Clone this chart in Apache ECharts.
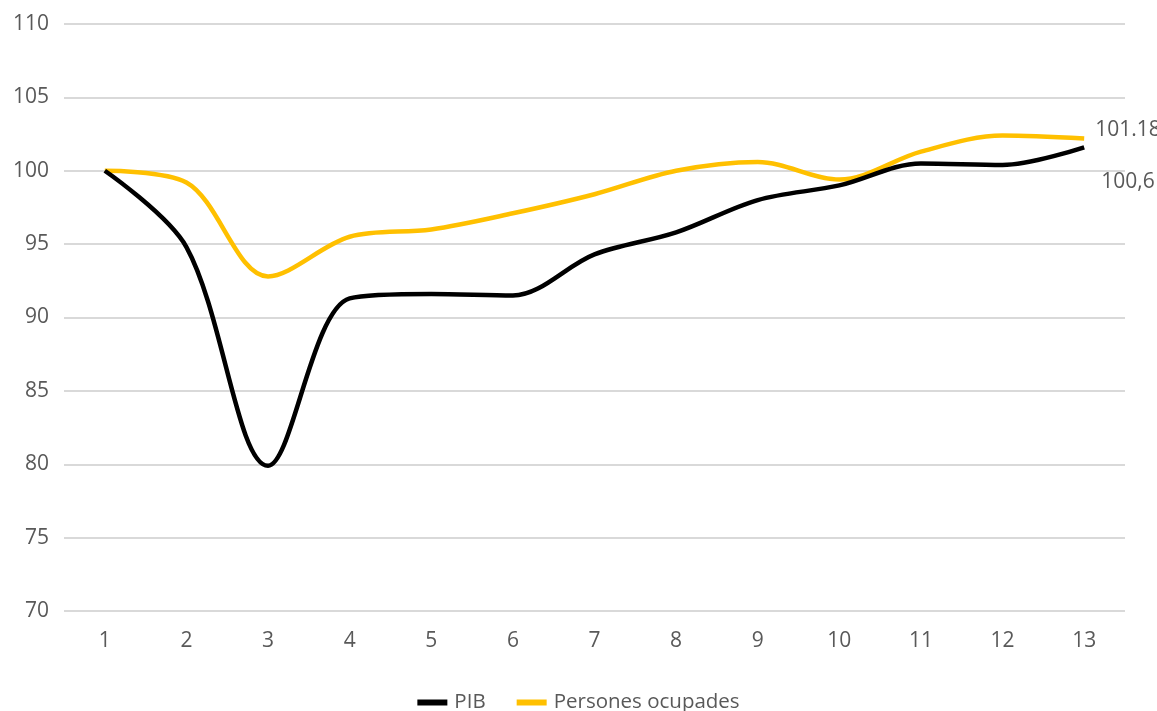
<!DOCTYPE html>
<html>
<head>
<meta charset="utf-8">
<style>html,body{margin:0;padding:0;background:#fff}#c{width:1157px;height:711px}</style>
<script src="https://cdn.jsdelivr.net/npm/echarts@6/dist/echarts.min.js"></script>
</head>
<body>
<div id="c"></div>
<script>
const categories = ['1','2','3','4','5','6','7','8','9','10','11','12','13'];
const pib = [100, 94.8, 79.9, 91.3, 91.6, 91.5, 94.3, 95.8, 98.0, 99.0, 100.5, 100.4, 101.6];
const ocupades = [100, 99.2, 92.8, 95.5, 96.0, 97.1, 98.4, 100.0, 100.6, 99.4, 101.3, 102.4, 102.2];
const pibEndLabel = '100,6';
const ocupadesEndLabel = '101.18';

const font = 'Open Sans';
const txt = '#595959';

const chart = echarts.init(document.getElementById('c'));
chart.setOption({
  animation: false,
  grid: { left: 64, right: 32, top: 24, bottom: 100, containLabel: false },
  legend: {
    top: 687, left: 'center', icon: 'rect', itemWidth: 30, itemHeight: 6, itemGap: 31,
    textStyle: { color: txt, fontSize: 20.5, fontFamily: font, padding: [0, 0, 0, 2] },
    data: ['PIB', 'Persones ocupades']
  },
  xAxis: {
    type: 'category', data: categories, boundaryGap: true,
    axisLine: { show: false }, axisTick: { show: false },
    axisLabel: { color: txt, fontSize: 21, fontFamily: font, margin: 20 }
  },
  yAxis: {
    type: 'value', min: 70, max: 110, interval: 5,
    axisLine: { show: false }, axisTick: { show: false },
    axisLabel: { color: txt, fontSize: 21, fontFamily: font, margin: 15 },
    splitLine: { lineStyle: { color: '#d9d9d9', width: 2 } }
  },
  series: [
    { name: 'PIB', type: 'line', smooth: 0.33, showSymbol: false, symbol: 'none',
      color: '#000000', lineStyle: { width: 4.5, color: '#000000' },
      endLabel: { show: true, formatter: pibEndLabel, distance: 5, offset: [12, 35], color: txt, fontSize: 21, fontFamily: font },
      data: pib, z: 3 },
    { name: 'Persones ocupades', type: 'line', smooth: 0.33, showSymbol: false, symbol: 'none',
      color: '#FFC000', lineStyle: { width: 4.5, color: '#FFC000' },
      endLabel: { show: true, formatter: ocupadesEndLabel, distance: 5, offset: [6, -8], color: txt, fontSize: 21, fontFamily: font },
      data: ocupades, z: 2 }
  ]
});
</script>
</body>
</html>
